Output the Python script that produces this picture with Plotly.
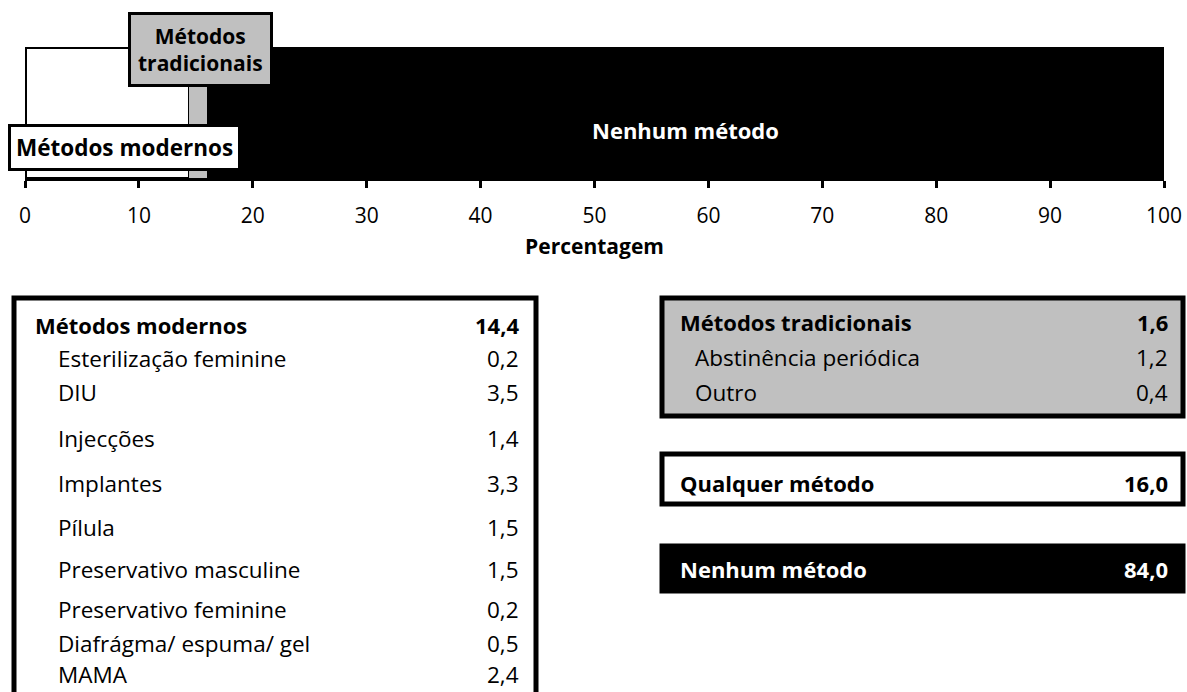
"""Contraceptive use: stacked bar of method types plus summary tables."""
import plotly.graph_objects as go

W, H = 1187, 692
FONT = "Open Sans"
GREY = "#c0c0c0"

# --- data ------------------------------------------------------------------
bar_names = ["Métodos modernos", "Métodos tradicionais", "Nenhum método"]
bar_values = [14.4, 1.6, 84.0]
bar_colors = ["white", GREY, "black"]

modern_header = ("Métodos modernos", "14,4")
modern_labels = [
    "Esterilização feminine", "DIU", "Injecções", "Implantes", "Pílula",
    "Preservativo masculine", "Preservativo feminine",
    "Diafrágma/ espuma/ gel", "MAMA",
]
modern_values = ["0,2", "3,5", "1,4", "3,3", "1,5", "1,5", "0,2", "0,5", "2,4"]

trad_header = ("Métodos tradicionais", "1,6")
trad_labels = ["Abstinência periódica", "Outro"]
trad_values = ["1,2", "0,4"]

any_method = ("Qualquer método", "16,0")
no_method = ("Nenhum método", "84,0")

tick_vals = list(range(0, 101, 10))


def px(x):
    return x / W


def py(y):
    return 1 - y / H


fig = go.Figure()
for name, val, col in zip(bar_names, bar_values, bar_colors):
    fig.add_trace(go.Bar(
        y=[0], x=[val], orientation="h", width=1, name=name,
        marker=dict(color=col, line=dict(color="black",
                                         width=3 if col == "white" else 0)),
        hoverinfo="skip",
    ))

annotations = []
shapes = []

# bar labels
annotations.append(dict(
    x=bar_values[0] + bar_values[1] + bar_values[2] / 2, y=-0.13,
    xref="x", yref="y", text="<b>Nenhum método</b>", showarrow=False,
    xanchor="center", yanchor="middle",
    font=dict(family=FONT, size=22, color="white"),
))
annotations.append(dict(
    x=px(125), y=py(148), xref="paper", yref="paper",
    xanchor="center", yanchor="middle",
    text="<b>Métodos modernos</b>", showarrow=False,
    font=dict(family=FONT, size=22.5, color="black"),
    bgcolor="white", bordercolor="black", borderwidth=3, borderpad=5,
))
annotations.append(dict(
    x=px(200), y=py(50), xref="paper", yref="paper",
    xanchor="center", yanchor="middle",
    text="<b>Métodos<br>tradicionais</b>", showarrow=False,
    font=dict(family=FONT, size=21, color="black"),
    bgcolor=GREY, bordercolor="black", borderwidth=3, borderpad=7,
))


def row(label, value, xl, xr, y, bold=False, color="black"):
    t = (lambda s: f"<b>{s}</b>") if bold else (lambda s: s)
    size = 22 if bold else 22.5
    for text, x, anchor in [(label, xl, "left"), (value, xr, "right")]:
        annotations.append(dict(
            x=px(x), y=py(y), xref="paper", yref="paper",
            text=t(text), showarrow=False, xanchor=anchor, yanchor="middle",
            borderpad=0,
            font=dict(family=FONT, size=size, color=color),
        ))


def box(x0, x1, y0, y1, fill):
    shapes.append(dict(type="rect", xref="paper", yref="paper",
                       x0=px(x0), x1=px(x1), y0=py(y1), y1=py(y0),
                       fillcolor=fill, line=dict(color="black", width=5),
                       layer="below"))


# left table: modern methods
box(14, 536, 298, 720, "white")
left_rows = [325, 358, 392, 438, 483, 527, 569, 609, 643, 674]
row(*modern_header, 34, 520, left_rows[0], bold=True)
for lab, val, y in zip(modern_labels, modern_values, left_rows[1:]):
    row(lab, val, 57, 520, y)

# right tables
box(662, 1183, 298, 416, GREY)
right_rows = [322, 357, 392]
row(*trad_header, 679, 1169, right_rows[0], bold=True)
for lab, val, y in zip(trad_labels, trad_values, right_rows[1:]):
    row(lab, val, 694, 1169, y)

box(662, 1183, 454, 504, "white")
row(*any_method, 679, 1169, 483, bold=True)

box(662, 1183, 546, 591, "black")
row(*no_method, 679, 1169, 569, bold=True, color="white")

fig.update_layout(
    width=W, height=H,
    margin=dict(l=0, r=0, t=0, b=0),
    barmode="stack",
    showlegend=False,
    plot_bgcolor="white", paper_bgcolor="white",
    xaxis=dict(
        domain=[px(25), px(1164)], range=[0, 100], automargin=False,
        tickvals=tick_vals, ticks="outside", ticklen=7, tickwidth=3,
        tickcolor="black", showline=True, linecolor="black", linewidth=3,
        showgrid=False, zeroline=False, ticklabelstandoff=10,
        tickfont=dict(family=FONT, size=21, color="black"),
        title=dict(text="<b>Percentagem</b>", standoff=12,
                   font=dict(family=FONT, size=21, color="black")),
    ),
    yaxis=dict(domain=[py(178), py(47)], range=[-0.5, 0.5], visible=False,
               automargin=False),
    annotations=annotations,
    shapes=shapes,
)

# drop the default body margin so the figure fills the window exactly
fig.write_html("out.html",
               config={"displayModeBar": False},
               post_script="document.body.style.margin = '0';")
